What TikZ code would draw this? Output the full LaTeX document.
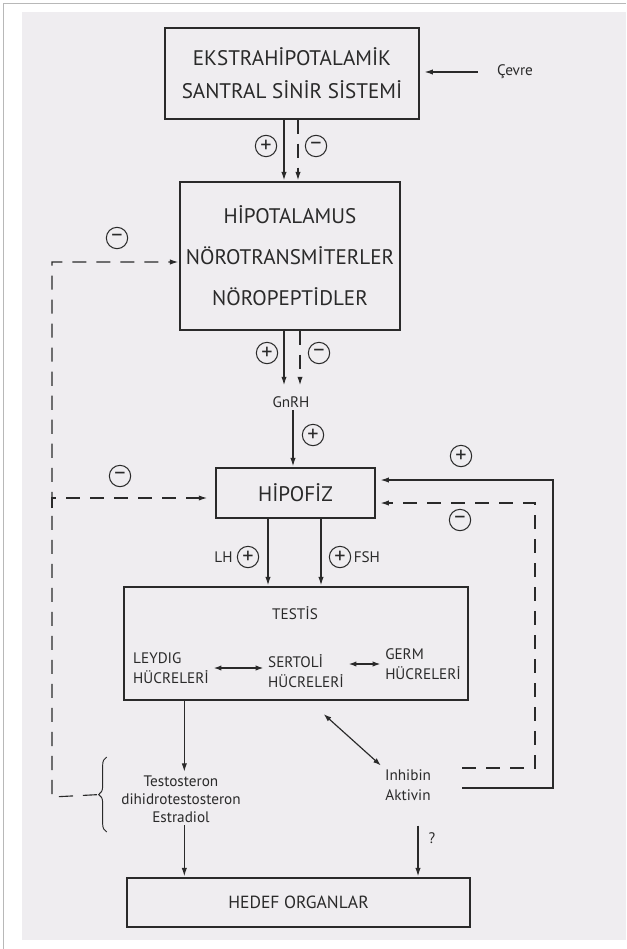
\documentclass[tikz,border=0pt]{standalone}
\usepackage{fontspec}
\setmainfont{PT Sans}
\usepackage{xcolor}
\usetikzlibrary{arrows.meta,positioning,calc,decorations.pathreplacing}
\definecolor{ScanPaper}{HTML}{EFEDF0}
\definecolor{InkGray}{HTML}{2A2A2A}
\definecolor{FrameGray}{HTML}{B8B8B8}
\tikzset{
  flowarrow/.style={-{Latex[length=2.5mm,width=1.6mm]}, line width=0.95pt,
    draw=InkGray, shorten >=1pt},
  flowdash/.style={flowarrow, dash pattern=on 12pt off 8.5pt},
  pairarrow/.style={{Latex[length=2.3mm,width=1.6mm]}-{Latex[length=2.3mm,width=1.6mm]},
    line width=1pt, draw=InkGray, shorten >=2pt, shorten <=2pt},
  signmark/.style={circle, draw=InkGray, line width=0.9pt, minimum size=0.64cm,
    inner sep=0pt, text=InkGray, font=\fontsize{19}{19}\selectfont},
  smalltext/.style={font=\fontsize{13}{17}\selectfont, text=InkGray, align=center, inner sep=2pt}
}

\begin{document}
\begin{tikzpicture}[
  box/.style={draw=InkGray, line width=1pt, align=center, text=InkGray, inner sep=0pt,
    font=\fontsize{18}{28}\selectfont}
]
\useasboundingbox (0,0) rectangle (18.78,-28.47);
\fill[white] (0,0) rectangle (18.78,-28.47);
\fill[ScanPaper] (0.66,-0.36) rectangle (18.78,-28.2);
\draw[FrameGray, line width=0.6pt] (0.09,-28.47) -- (0.09,-0.09) -- (18.78,-0.09);

\node[box, minimum width=7.62cm, minimum height=2.73cm] at (8.76,-2.205) (ekstra) {EKSTRAHİPOTALAMİK\\SANTRAL SİNİR SİSTEMİ};
\node[smalltext] at (15.45,-2.16) (cevre) {Çevre};
\node[box, minimum width=6.6cm, minimum height=4.44cm, font=\fontsize{18}{35}\selectfont] at (8.70,-7.68) (hipot) {HİPOTALAMUS\\NÖROTRANSMİTERLER\\NÖROPEPTİDLER};
\node[smalltext] at (8.73,-12.06) (gnrh) {GnRH};
\node[box, minimum width=4.77cm, minimum height=1.5cm] at (8.865,-14.79) (hipofiz) {HİPOFİZ};
\node[box, minimum width=10.32cm, minimum height=3.39cm] at (8.88,-19.305) (testis) {};
\node[smalltext] at (8.85,-18.39) (testislabel) {TESTİS};
\node[smalltext, align=left, anchor=west] at (3.92,-20.04) (leydig) {LEYDIG\\HÜCRELERİ};
\node[smalltext, align=left, anchor=west] at (7.97,-20.13) (sertoli) {SERTOLİ\\HÜCRELERİ};
\node[smalltext, align=left, anchor=west] at (11.48,-19.92) (germ) {GERM\\HÜCRELERİ};
\node[smalltext, font=\fontsize{13}{15.5}\selectfont] at (5.43,-23.97) (hormon) {Testosteron\\dihidrotestosteron\\Estradiol};
\node[smalltext] at (12.24,-23.55) (inhibin) {Inhibin\\Aktivin};
\node[box, minimum width=10.29cm, minimum height=1.47cm, font=\fontsize{15}{15}\selectfont] at (8.955,-27.075) (hedef) {HEDEF ORGANLAR};
\node[smalltext] at (12.96,-25.14) (query) {?};

% plus / minus marks beside the connectors
\node[signmark] at (7.98,-4.38) (ekplus) {+};
\node[signmark] at (9.48,-4.38) (ekminus) {–};
\node[signmark] at (8.01,-10.59) (hpplus) {+};
\node[signmark] at (9.57,-10.59) (hpminus) {–};
\node[signmark] at (9.39,-13.05) (gnplus) {+};
\node[signmark] at (3.51,-7.14) (fbtopminus) {–};
\node[signmark] at (3.6,-14.28) (fbmidminus) {–};
\node[signmark] at (7.44,-16.71) (lhplus) {+};
\node[signmark] at (10.2,-16.71) (fshplus) {+};
\node[signmark] at (13.83,-13.68) (inplus) {+};
\node[signmark] at (13.8,-15.6) (inminus) {–};
\node[smalltext, left=0.05cm of lhplus] (lh) {LH};
\node[smalltext, right=0pt of fshplus] (fsh) {FSH};

\coordinate (bracetip) at (2.91,-23.84);
\coordinate (railbot) at (1.56,-23.91);
\coordinate (railtop) at (1.56,-7.86);
\coordinate (railmid) at (1.56,-14.94);
\coordinate (solidfoot) at (13.86,-23.64);
\coordinate (solidtop) at (16.59,-14.4);
\coordinate (dashfoot) at (13.86,-23.04);
\coordinate (dashtop) at (16.05,-15.09);

\draw[flowarrow, shorten <=0.5cm, shorten >=0.15cm] (cevre.west) -- (cevre.west -| ekstra.east);
\draw[flowarrow] ([xshift=-0.24cm]ekstra.south) -- ([xshift=-0.24cm]ekstra.south |- hipot.north);
\draw[flowdash] ([xshift=0.18cm]ekstra.south) -- ([xshift=0.18cm]ekstra.south |- hipot.north);
\draw[flowarrow, shorten >=7.5pt] ([xshift=-0.18cm]hipot.south) -- ([xshift=-0.18cm]hipot.south |- gnrh.north);
\draw[flowdash, shorten >=7.5pt] ([xshift=0.3cm]hipot.south) -- ([xshift=0.3cm]hipot.south |- gnrh.north);
\draw[flowarrow] ([xshift=0.06cm]gnrh.south) -- ([xshift=0.06cm]gnrh.south |- hipofiz.north);
\draw[flowarrow] ([xshift=-0.825cm]hipofiz.south) -- ([xshift=-0.825cm]hipofiz.south |- testis.north);
\draw[flowarrow] ([xshift=0.765cm]hipofiz.south) -- ([xshift=0.765cm]hipofiz.south |- testis.north);
\draw[pairarrow] (leydig.east) -- (leydig.east -| sertoli.west);
\draw[pairarrow] (germ.west -| sertoli.east) -- (germ.west);
\draw[flowarrow] ([xshift=0.1cm]testis.south -| hormon.north) -- ([xshift=0.1cm]hormon.north);
\draw[flowarrow] ([xshift=0.1cm]hormon.south) -- ([xshift=0.1cm]hormon.south |- hedef.north);
\draw[pairarrow] ([xshift=0.78cm,yshift=-0.36cm]testis.south) -- (inhibin.north west);
\draw[flowarrow, shorten <=0.68cm] ([xshift=0.3cm]inhibin.south) -- ([xshift=0.3cm]inhibin.south |- hedef.north);

% feedback loops back to the hypothalamus and the pituitary
\draw[InkGray, line width=0.8pt, decorate, decoration={brace, amplitude=0.24cm}] (3.2,-24.96) -- (3.2,-22.71);
\draw[flowdash] (bracetip) -- (railbot) -- (railtop) -- (railtop -| hipot.west);
\draw[flowdash, shorten >=0.25cm] ([yshift=-0.3cm]railmid) -- (railmid) -- (railmid -| hipofiz.west);
\draw[flowarrow, shorten >=0.15cm] (solidfoot) -| (solidtop) -- (solidtop -| hipofiz.east);
\draw[flowdash, shorten >=0.15cm] (dashfoot) -| (dashtop) -- (dashtop -| hipofiz.east);
\end{tikzpicture}
\end{document}
